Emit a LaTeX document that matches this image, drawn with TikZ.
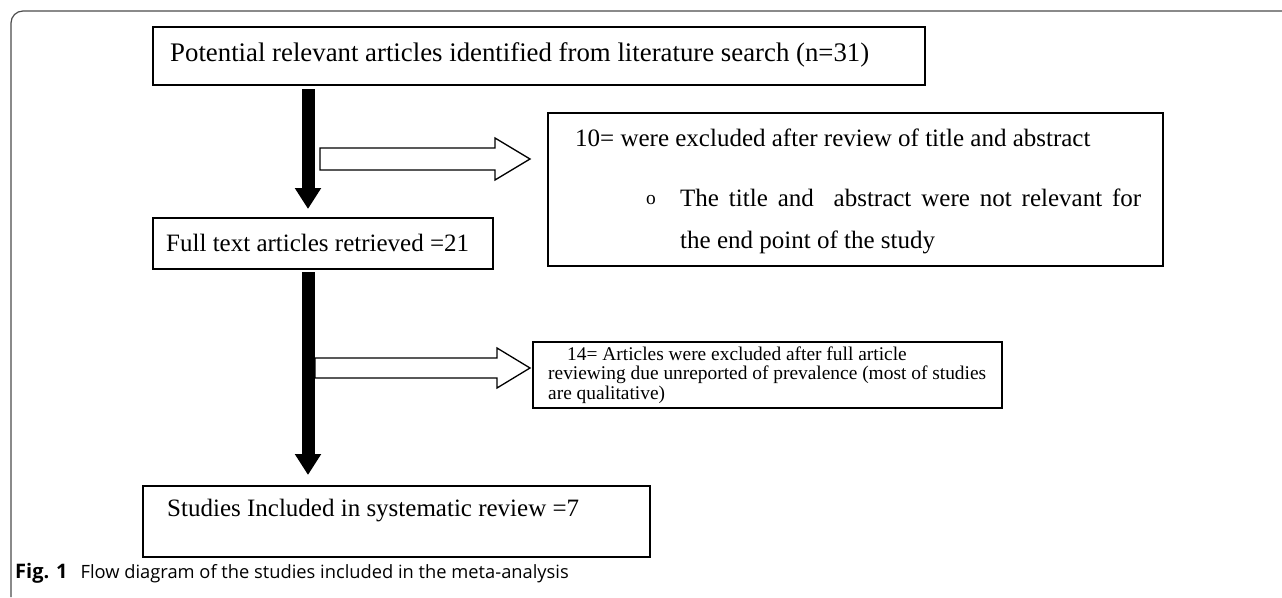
\documentclass[tikz,border=0pt]{standalone}
\usepackage{fontspec}
\setmainfont{Liberation Serif}
\newfontfamily\capfont{Open Sans}
\usetikzlibrary{calc,arrows.meta}

\begin{document}
\begin{tikzpicture}
      [x=1pt,y=-1pt
      ,box/.style={draw,line width=1.3pt,inner sep=0,outer sep=0}
      ,txt/.style={font=\fontsize{25}{28}\selectfont,inner sep=0,anchor=west}
      ,small/.style={font=\fontsize{19.4}{21}\selectfont,inner sep=0,anchor=west}
      ,flow/.style={line width=13pt,-{Triangle[width=25pt,length=21pt]}}
      ,hollow/.style={draw,line width=1.3pt,fill=white,line join=miter}]
        \useasboundingbox (0,0) rectangle (1282,597);
        % frame of the figure
        \draw[gray!60!black,line width=1.2pt] (1282,11) -- (23,11)
              arc[start angle=270,end angle=180,radius=12] -- (11,597);
        % boxes
        \node[box,minimum width=772,minimum height=58] (found) at (539,56) {};
        \node[box,minimum width=340,minimum height=51] (full)  at (323,243.5) {};
        \node[box,minimum width=507,minimum height=71] (incl)  at (396.5,521.5) {};
        \node[box,minimum width=615,minimum height=153] (exa)  at (855.5,189.5) {};
        \node[box,minimum width=469,minimum height=66] (exb)   at (767.5,375) {};
        % texts
        \node[txt,font=\fontsize{26.8}{30}\selectfont] (foundtxt) at (170,55)
              {Potential relevant articles identified from literature search (n=31)};
        \node[txt] (fulltxt)  at (166,243) {Full text articles retrieved =21};
        \node[txt] (incltxt)  at (167,511) {Studies Included in systematic review =7};
        \node[txt] (exatxt)   at (575,138) {10= were excluded after review of title and abstract};
        \node[small] (exabul) at (646,200) {o};
        \node[txt] (exaone)   at (680,198) {\makebox[461pt][s]{The title and \ abstract were not relevant for}};
        \node[txt] (exatwo)   at (680,242) {the end point of the study};
        \node[small] (exbone) at (567,354) {14= Articles were excluded after full article};
        \node[small] (exbtwo) at (548,375) {reviewing due unreported of prevalence (most of studies};
        \node[small] (exbthr) at (548,395) {are qualitative)};
        % main flow
        \coordinate (spine) at (308,0);
        \draw[flow] ($(found.south -| spine)+(0,4)$) -- ($(full.north -| spine)+(0,-9)$);
        \draw[flow] ($(full.south -| spine)+(0,3)$) -- ($(incl.north -| spine)+(0,-11)$);
        % exclusions
        \coordinate (h1s) at (320,159);
        \coordinate (h1e) at ($(h1s -| exa.west)+(-18,0)$);
        \draw[hollow] ($(h1s)+(0,-11)$) -- ($(h1e)+(-35,-11)$) -- ($(h1e)+(-35,-21)$)
              -- (h1e) -- ($(h1e)+(-35,21)$) -- ($(h1e)+(-35,11)$) -- ($(h1s)+(0,11)$) -- cycle;
        \coordinate (h2s) at (315,368);
        \coordinate (h2e) at ($(h2s -| exb.west)+(-3,0)$);
        \draw[hollow] ($(h2s)+(0,-10)$) -- ($(h2e)+(-33,-10)$) -- ($(h2e)+(-33,-20)$)
              -- (h2e) -- ($(h2e)+(-33,20)$) -- ($(h2e)+(-33,10)$) -- ($(h2s)+(0,10)$) -- cycle;
        % caption
        \node[inner sep=0,anchor=west,font=\capfont\fontsize{18.3}{20}\selectfont] (cap) at (15,573)
              {{\fontsize{20}{21}\selectfont\textbf{Fig. 1}}\hspace{13pt}Flow diagram of the studies included in the meta-analysis};
      \end{tikzpicture}
\end{document}
